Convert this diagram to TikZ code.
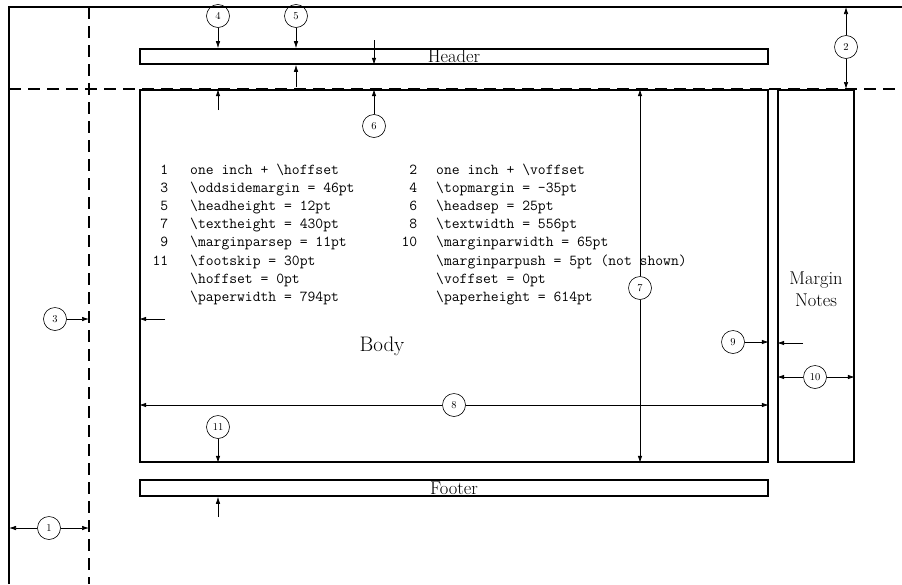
\documentclass[tikz,border=0pt]{standalone}
\usepackage{fontspec}
\usepackage{array}
\usetikzlibrary{arrows.meta}
\newcommand\bsl{\textbackslash}
\tikzset{
  pagebox/.style={draw,line width=1.6pt,inner sep=0pt,font=\fontsize{18.5}{22}\selectfont},
  guide/.style={line width=1.6pt,dash pattern=on 12pt off 7pt},
  num/.style={draw,circle,line width=0.6pt,inner sep=0pt,minimum size=23pt,font=\fontsize{10.5}{12}\selectfont},
  dim/.style={-{Latex[length=7pt,width=4.5pt]},line width=0.7pt}
}
\begin{document}
\begin{tikzpicture}[x=1pt,y=-1pt]
    \useasboundingbox (0,0) rectangle (902,584);
    \coordinate (paper) at (9,7);
    \coordinate (origin) at (89,89);
    \draw[line width=1.6pt] (9,584) -- (paper) -- (902,7);
    \draw[guide] (89,7) -- (89,584);
    \draw[guide] (9,89) -- (902,89);
    \node[pagebox,minimum width=628pt,minimum height=15pt] (header) at (454,56.5) {Header};
    \node[pagebox,minimum width=628pt,minimum height=372pt] (body) at (454,276) {};
    \node[pagebox,minimum width=628pt,minimum height=16pt] (footer) at (454,488) {Footer};
    \node[pagebox,minimum width=76pt,minimum height=372pt] (margin) at (816,276) {};
    \node[align=center,font=\fontsize{18.5}{22.5}\selectfont] (mtext) at (816,289) {Margin\\Notes};
    \node[font=\fontsize{21}{25}\selectfont] (bodytext) at (382,346) {Body};
    \node[anchor=base west,inner sep=0pt,font=\ttfamily\fontsize{15.2}{18.2}\selectfont] (params) at (140,174) {%
      \begin{tabular}[t]{@{}w{r}{28pt}@{\hspace{22pt}}w{l}{193pt}w{r}{22pt}@{\hspace{19pt}}l@{}}
        1 & one inch + \bsl hoffset & 2 & one inch + \bsl voffset\\
        3 & \bsl oddsidemargin = 46pt & 4 & \bsl topmargin = -35pt\\
        5 & \bsl headheight = 12pt & 6 & \bsl headsep = 25pt\\
        7 & \bsl textheight = 430pt & 8 & \bsl textwidth = 556pt\\
        9 & \bsl marginparsep = 11pt & 10 & \bsl marginparwidth = 65pt\\
        11 & \bsl footskip = 30pt & & \bsl marginparpush = 5pt (not shown)\\
         & \bsl hoffset = 0pt & & \bsl voffset = 0pt\\
         & \bsl paperwidth = 794pt & & \bsl paperheight = 614pt
      \end{tabular}};
    \node[num] (c1) at (49,528) {1};
    \node[num] (c2) at (846,47) {2};
    \node[num] (c3) at (55,319) {3};
    \node[num] (c4) at (218,16) {4};
    \node[num] (c5) at (296,16) {5};
    \node[num] (c6) at (374,126) {6};
    \node[num] (c7) at (640,288) {7};
    \node[num] (c8) at (454,405) {8};
    \node[num] (c9) at (733,342) {9};
    \node[num] (c10) at (815,377) {10};
    \node[num] (c11) at (218,427) {11};
    \coordinate (hh) at (296,87);
    \coordinate (hs) at (374,40);
    \coordinate (tm) at (218,110);
    \coordinate (os) at (165,319);
    \coordinate (mps) at (803,343);
    \coordinate (fs) at (218,517);
    \draw[dim] (c1) -- (c1 -| paper);
    \draw[dim] (c1) -- (c1 -| origin);
    \draw[dim] (c2) -- (c2 |- paper);
    \draw[dim] (c2) -- (c2 |- origin);
    \draw[dim] (c3) -- (c3 -| origin);
    \draw[dim] (os) -- (os -| body.west);
    \draw[dim] (c4) -- (c4 |- header.north);
    \draw[dim] (tm) -- (tm |- body.north);
    \draw[dim] (c5) -- (c5 |- header.north);
    \draw[dim] (hh) -- (hh |- header.south);
    \draw[dim] (hs) -- (hs |- header.south);
    \draw[dim] (c6) -- (c6 |- body.north);
    \draw[dim] (c7) -- (c7 |- body.north);
    \draw[dim] (c7) -- (c7 |- body.south);
    \draw[dim] (c8) -- (c8 -| body.west);
    \draw[dim] (c8) -- (c8 -| body.east);
    \draw[dim] (c9) -- (c9 -| body.east);
    \draw[dim] (mps) -- (mps -| margin.west);
    \draw[dim] (c10) -- (c10 -| margin.west);
    \draw[dim] (c10) -- (c10 -| margin.east);
    \draw[dim] (c11) -- (c11 |- body.south);
    \draw[dim] (fs) -- (fs |- footer.south);
\end{tikzpicture}
\end{document}
